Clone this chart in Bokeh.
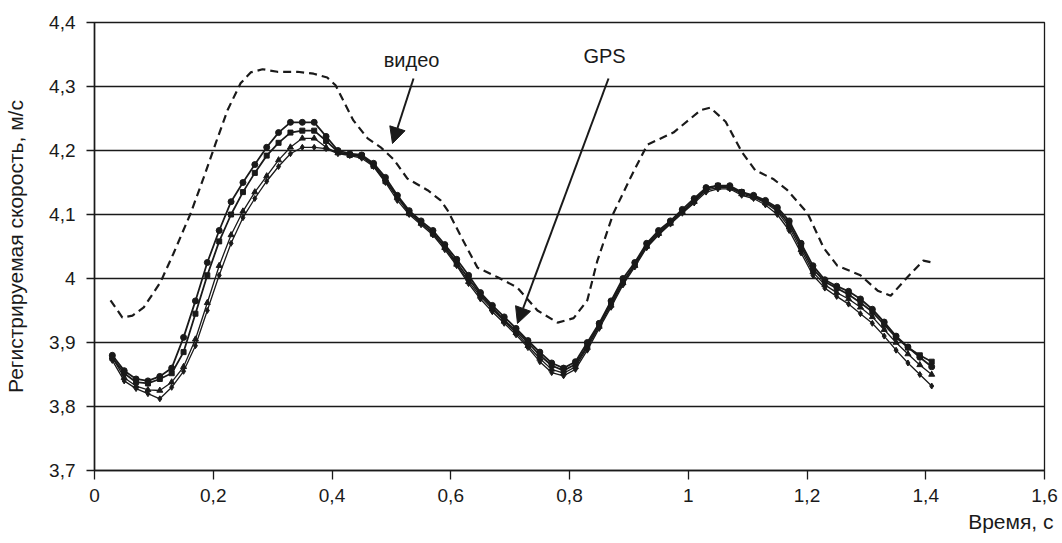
from bokeh.plotting import figure
from bokeh.models import Range1d, FixedTicker, Label, Arrow, NormalHead, CustomJSTickFormatter, Title
from bokeh.embed import file_html
from bokeh.resources import INLINE

# ---- data ----
x_ticks = [0, 0.2, 0.4, 0.6, 0.8, 1.0, 1.2, 1.4, 1.6]
y_ticks = [3.7, 3.8, 3.9, 4.0, 4.1, 4.2, 4.3, 4.4]

video_t = [0.027, 0.047, 0.064, 0.083, 0.111, 0.133, 0.162, 0.184, 0.204, 0.224,
           0.246, 0.263, 0.283, 0.308, 0.342, 0.369, 0.392, 0.406, 0.419, 0.436,
           0.460, 0.482, 0.504, 0.527, 0.561, 0.583, 0.595, 0.621, 0.645, 0.679,
           0.712, 0.746, 0.780, 0.807, 0.830, 0.847, 0.874, 0.903, 0.931, 0.975,
           1.021, 1.037, 1.063, 1.090, 1.113, 1.144, 1.167, 1.201, 1.228, 1.251,
           1.290, 1.319, 1.341, 1.369, 1.396, 1.411]
video_v = [3.966, 3.939, 3.942, 3.955, 3.994, 4.039, 4.102, 4.158, 4.211, 4.263,
           4.305, 4.322, 4.327, 4.323, 4.323, 4.320, 4.314, 4.302, 4.278, 4.247,
           4.219, 4.205, 4.186, 4.156, 4.138, 4.122, 4.106, 4.059, 4.017, 4.002,
           3.986, 3.950, 3.931, 3.938, 3.966, 4.028, 4.102, 4.158, 4.209, 4.228,
           4.263, 4.267, 4.245, 4.198, 4.169, 4.155, 4.138, 4.102, 4.048, 4.020,
           4.005, 3.981, 3.973, 4.002, 4.028, 4.025]

gps_t = [0.03, 0.05, 0.07, 0.09, 0.11, 0.13, 0.15, 0.17, 0.19, 0.21,
         0.23, 0.25, 0.27, 0.29, 0.31, 0.33, 0.35, 0.37, 0.39, 0.41,
         0.43, 0.45, 0.47, 0.49, 0.51, 0.53, 0.55, 0.57, 0.59, 0.61,
         0.63, 0.65, 0.67, 0.69, 0.71, 0.73, 0.75, 0.77, 0.79, 0.81,
         0.83, 0.85, 0.87, 0.89, 0.91, 0.93, 0.95, 0.97, 0.99, 1.01,
         1.03, 1.05, 1.07, 1.09, 1.11, 1.13, 1.15, 1.17, 1.19, 1.21,
         1.23, 1.25, 1.27, 1.29, 1.31, 1.33, 1.35, 1.37, 1.39, 1.41]

gps_a = [3.880, 3.856, 3.843, 3.840, 3.847, 3.860, 3.908, 3.965, 4.025, 4.075,
         4.120, 4.150, 4.178, 4.205, 4.228, 4.244, 4.244, 4.244, 4.222, 4.200,
         4.195, 4.193, 4.180, 4.158, 4.130, 4.106, 4.090, 4.075, 4.053, 4.030,
         4.005, 3.978, 3.958, 3.940, 3.922, 3.903, 3.885, 3.868, 3.860, 3.870,
         3.900, 3.930, 3.965, 4.000, 4.025, 4.055, 4.075, 4.090, 4.108, 4.125,
         4.142, 4.145, 4.145, 4.135, 4.130, 4.122, 4.111, 4.090, 4.055, 4.020,
         3.998, 3.988, 3.980, 3.968, 3.952, 3.932, 3.910, 3.893, 3.877, 3.862]

gps_b = [3.876, 3.852, 3.838, 3.836, 3.843, 3.852, 3.885, 3.945, 4.005, 4.058,
         4.100, 4.135, 4.165, 4.192, 4.212, 4.228, 4.231, 4.231, 4.215, 4.198,
         4.193, 4.192, 4.176, 4.152, 4.128, 4.102, 4.088, 4.070, 4.050, 4.025,
         4.000, 3.975, 3.955, 3.935, 3.918, 3.900, 3.880, 3.864, 3.856, 3.866,
         3.895, 3.928, 3.962, 3.995, 4.022, 4.052, 4.072, 4.088, 4.105, 4.122,
         4.140, 4.145, 4.142, 4.135, 4.128, 4.120, 4.108, 4.085, 4.050, 4.015,
         3.995, 3.985, 3.975, 3.962, 3.948, 3.928, 3.908, 3.892, 3.880, 3.870]

gps_c = [3.877, 3.845, 3.832, 3.826, 3.825, 3.838, 3.862, 3.905, 3.962, 4.020,
         4.068, 4.105, 4.135, 4.160, 4.185, 4.205, 4.219, 4.219, 4.205, 4.196,
         4.193, 4.190, 4.178, 4.155, 4.126, 4.104, 4.086, 4.072, 4.048, 4.022,
         3.995, 3.972, 3.952, 3.933, 3.915, 3.895, 3.875, 3.858, 3.852, 3.862,
         3.892, 3.925, 3.958, 3.993, 4.020, 4.050, 4.070, 4.086, 4.103, 4.120,
         4.138, 4.142, 4.142, 4.132, 4.127, 4.118, 4.105, 4.080, 4.045, 4.010,
         3.990, 3.978, 3.968, 3.955, 3.940, 3.920, 3.900, 3.882, 3.865, 3.850]

gps_d = [3.872, 3.840, 3.828, 3.820, 3.812, 3.830, 3.855, 3.895, 3.950, 4.005,
         4.055, 4.095, 4.125, 4.152, 4.175, 4.195, 4.205, 4.205, 4.203, 4.195,
         4.192, 4.188, 4.175, 4.150, 4.122, 4.100, 4.084, 4.068, 4.045, 4.020,
         3.992, 3.968, 3.948, 3.930, 3.912, 3.892, 3.870, 3.853, 3.848, 3.858,
         3.888, 3.922, 3.955, 3.990, 4.018, 4.048, 4.068, 4.085, 4.102, 4.118,
         4.135, 4.140, 4.140, 4.130, 4.125, 4.115, 4.100, 4.075, 4.040, 4.005,
         3.985, 3.972, 3.960, 3.945, 3.930, 3.910, 3.888, 3.868, 3.850, 3.832]

x_title = "Время, с"
y_title = "Регистрируемая скорость, м/с"
video_label = "видео"
gps_label = "GPS"

FONT = "Liberation Sans"
INK = "#1a1a1a"

p = figure(width=1060, height=541,
           x_range=Range1d(0, 1.6), y_range=Range1d(3.7, 4.4),
           output_backend="svg", toolbar_location=None,
           min_border_left=94, min_border_right=16,
           min_border_top=22, min_border_bottom=71)
p.background_fill_color = "white"
p.border_fill_color = "white"
p.outline_line_color = INK
p.outline_line_width = 1.3

fmt = CustomJSTickFormatter(code="return (Math.round(tick*10)/10).toString().replace('.', ',');")

for ax, ticks in ((p.xaxis[0], x_ticks), (p.yaxis[0], y_ticks)):
    ax.ticker = FixedTicker(ticks=ticks)
    ax.formatter = fmt
    ax.axis_line_color = INK
    ax.axis_line_width = 1.5
    ax.major_tick_line_color = INK
    ax.major_tick_line_width = 1.3
    ax.major_tick_in = 0
    ax.minor_tick_line_color = None
    ax.major_label_text_font = FONT
    ax.major_label_text_font_size = "19px"
    ax.major_label_text_color = INK

p.xaxis.major_tick_out = 9
p.xaxis.major_label_standoff = 9
p.yaxis.major_tick_out = 8
p.yaxis.major_label_standoff = 11

p.yaxis.axis_label = y_title
p.yaxis.axis_label_text_font = FONT
p.yaxis.axis_label_text_font_size = "21px"
p.yaxis.axis_label_text_font_style = "normal"
p.yaxis.axis_label_text_color = INK
p.yaxis.axis_label_standoff = 19

# x axis title, right-aligned under the end of the axis
p.add_layout(Title(text=x_title, align="right", offset=-9, standoff=7,
                   text_font=FONT, text_font_size="21px",
                   text_font_style="normal", text_color=INK), "below")

p.xgrid.visible = False
p.ygrid.ticker = FixedTicker(ticks=y_ticks)
p.ygrid.grid_line_color = INK
p.ygrid.grid_line_width = 1.3

# GPS series (4 overlapping traces)
p.line(gps_t, gps_a, line_color=INK, line_width=1.8)
p.scatter(gps_t, gps_a, marker="circle", size=6, fill_color=INK, line_color=INK)
p.line(gps_t, gps_b, line_color=INK, line_width=1.8)
p.scatter(gps_t, gps_b, marker="square", size=5, fill_color=INK, line_color=INK)
p.line(gps_t, gps_c, line_color=INK, line_width=1.3)
p.scatter(gps_t, gps_c, marker="triangle", size=6, fill_color=INK, line_color=INK)
p.line(gps_t, gps_d, line_color=INK, line_width=1.3)
p.scatter(gps_t, gps_d, marker="diamond", size=6, fill_color=INK, line_color=INK)

# video series
p.line(video_t, video_v, line_color=INK, line_width=2.2, line_dash="8 5")

# annotations
p.add_layout(Label(x=0.534, y=4.342, text=video_label, text_align="center",
                   text_baseline="middle", text_font=FONT,
                   text_font_size="20px", text_color=INK))
p.add_layout(Label(x=0.859, y=4.347, text=gps_label, text_align="center",
                   text_baseline="middle", text_font=FONT,
                   text_font_size="20px", text_color=INK))
p.add_layout(Arrow(x_start=0.5373, y_start=4.3125, x_end=0.5019, y_end=4.2109,
                   line_color=INK, line_width=2,
                   end=NormalHead(size=16, fill_color=INK, line_color=INK)))
p.add_layout(Arrow(x_start=0.8657, y_start=4.3125, x_end=0.7124, y_end=3.9297,
                   line_color=INK, line_width=2,
                   end=NormalHead(size=16, fill_color=INK, line_color=INK)))

open("out.html", "w").write(file_html(p, INLINE))
